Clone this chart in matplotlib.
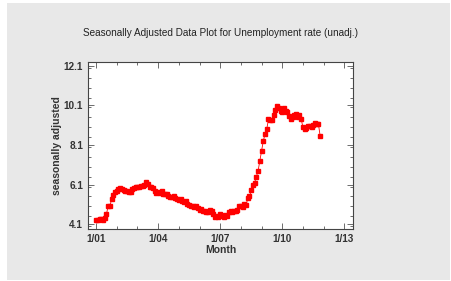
import numpy as np
import matplotlib.pyplot as plt
from matplotlib.patches import Rectangle
from matplotlib.ticker import MultipleLocator

plt.rcParams['font.family'] = ['Liberation Sans', 'DejaVu Sans']

# monthly values, Jan 2001 .. Nov 2011
rate = [
    4.3, 4.3, 4.35, 4.35, 4.3, 4.4, 4.6, 5.0, 5.0, 5.35, 5.55, 5.7,
    5.75, 5.85, 5.9, 5.85, 5.8, 5.75, 5.75, 5.7, 5.7, 5.85, 5.9, 5.95,
    5.95, 6.0, 6.05, 6.05, 6.1, 6.25, 6.15, 6.0, 6.0, 5.9, 5.75, 5.65,
    5.7, 5.65, 5.75, 5.6, 5.6, 5.6, 5.5, 5.45, 5.45, 5.5, 5.4, 5.35,
    5.3, 5.35, 5.25, 5.2, 5.25, 5.1, 5.05, 5.0, 5.0, 4.95, 5.0, 4.9,
    4.8, 4.85, 4.75, 4.75, 4.7, 4.7, 4.8, 4.75, 4.6, 4.45, 4.5, 4.45,
    4.6, 4.5, 4.45, 4.55, 4.5, 4.7, 4.75, 4.7, 4.75, 4.75, 4.8, 5.0,
    5.0, 4.95, 5.1, 5.05, 5.4, 5.5, 5.8, 6.1, 6.2, 6.5, 6.8, 7.3,
    7.8, 8.3, 8.65, 8.9, 9.4, 9.35, 9.35, 9.6, 9.85, 10.05, 9.95, 9.8,
    9.75, 9.95, 9.8, 9.75, 9.55, 9.4, 9.5, 9.6, 9.65, 9.5, 9.6, 9.4,
    9.0, 8.9, 8.95, 9.05, 9.05, 9.0, 9.1, 9.2, 9.15, 9.15, 8.55,
]
month = 2001 + np.arange(len(rate)) / 12.0

xticks = [2001, 2004, 2007, 2010, 2013]
xlabels = ['1/01', '1/04', '1/07', '1/10', '1/13']
yticks = [4.1, 6.1, 8.1, 10.1, 12.1]

txt = '#333333'

fig = plt.figure(figsize=(4.52, 2.81), dpi=100, facecolor='white')
fig.patches.append(Rectangle((7 / 452, 1 / 281), 443 / 452, 277 / 281,
                             transform=fig.transFigure, facecolor='#e8e8e8',
                             edgecolor='none', zorder=-10))

ax = fig.add_axes([88 / 452, 52 / 281, 265 / 452, 167 / 281])
ax.plot(month, rate, color='red', lw=0.6, marker='s', ms=3.1, mec='red', mfc='red')

ax.set_xlim(2000.61, 2013.42)
ax.set_ylim(3.85, 12.3)
ax.set_xticks(xticks)
ax.set_xticklabels(xlabels)
ax.set_yticks(yticks)
ax.set_yticklabels([str(v) for v in yticks])
ax.xaxis.set_minor_locator(MultipleLocator(1))
ax.yaxis.set_minor_locator(MultipleLocator(0.5))
ax.tick_params(which='both', direction='in', top=True, right=True,
               colors='#555555', labelcolor=txt, labelsize=7.2, width=0.6)
ax.tick_params(which='major', length=4)
ax.tick_params(which='minor', length=2.5)
for lab in ax.get_xticklabels() + ax.get_yticklabels():
    lab.set_fontweight('bold')
for s in ax.spines.values():
    s.set_color('#444444')
    s.set_linewidth(0.8)

ax.set_xlabel('Month', fontsize=7.5, fontweight='bold', color=txt, labelpad=1)
ax.set_ylabel('seasonally adjusted', fontsize=7.5, fontweight='bold', color=txt, labelpad=1)
fig.text(221 / 452, 1 - 33 / 281, 'Seasonally Adjusted Data Plot for Unemployment rate (unadj.)',
         ha='center', va='center', fontsize=7.2, color='#222222')

fig.savefig('out.png', dpi=100, facecolor=fig.get_facecolor())
